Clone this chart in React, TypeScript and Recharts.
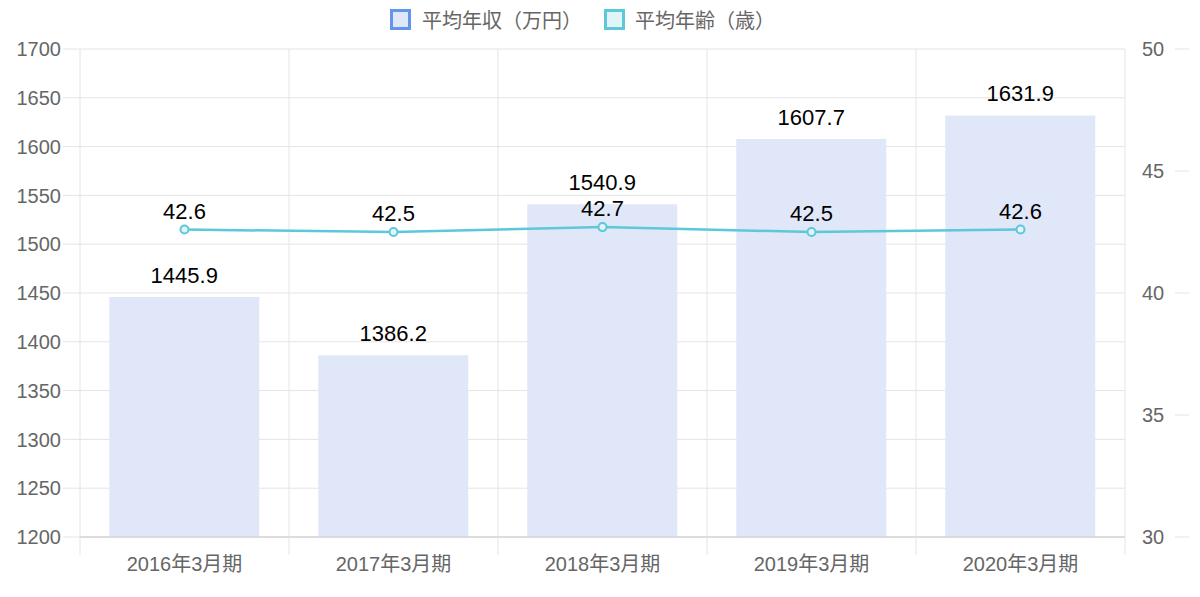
import React from 'react';
import {
  ComposedChart,
  Bar,
  Line,
  XAxis,
  YAxis,
  CartesianGrid,
  Legend,
  LabelList,
} from 'recharts';

const categories = ['2016年3月期', '2017年3月期', '2018年3月期', '2019年3月期', '2020年3月期'];
const incomeValues = [1445.9, 1386.2, 1540.9, 1607.7, 1631.9];
const ageValues = [42.6, 42.5, 42.7, 42.5, 42.6];
const incomeTicks = [1200, 1250, 1300, 1350, 1400, 1450, 1500, 1550, 1600, 1650, 1700];
const ageTicks = [30, 35, 40, 45, 50];

const data = categories.map((name, i) => ({
  name,
  income: incomeValues[i],
  age: ageValues[i],
}));

const FONT = '"Helvetica Neue", Helvetica, "Liberation Sans", Arial, "Noto Sans CJK JP", sans-serif';
const GRID = '#e4e4e4';
const BAR_FILL = '#dfe7f9';
const BAR_BORDER = '#6495ed';
const LINE_COLOR = '#5cc8da';

// category ticks: label in the band centre, tick marks on the band edges
const XTick = (props: any) => {
  const { x, y, payload, index } = props;
  const half = payload.offset || 0;
  return (
    <g>
      <line x1={x - half} x2={x - half} y1={y} y2={y + 18} stroke={GRID} />
      {index === categories.length - 1 && (
        <line x1={x + half} x2={x + half} y1={y} y2={y + 18} stroke={GRID} />
      )}
      <text x={x} y={y + 34} textAnchor="middle" fill="#666" fontSize={20} fontFamily={FONT}>
        {payload.value}
      </text>
    </g>
  );
};

// right axis: label first, then a short dash
const RightTick = (props: any) => {
  const { x, y, payload } = props;
  return (
    <g>
      <text x={x + 17} y={y + 7} textAnchor="start" fill="#666" fontSize={20} fontFamily={FONT}>
        {payload.value}
      </text>
      <line x1={x + 50} x2={x + 64} y1={y} y2={y} stroke={GRID} />
    </g>
  );
};

const LegendContent = () => (
  <div
    style={{
      height: 38,
      display: 'flex',
      justifyContent: 'flex-start',
      alignItems: 'center',
      paddingLeft: 390,
      fontFamily: FONT,
      fontSize: 20,
      color: '#666',
    }}
  >
    <span style={{ display: 'flex', alignItems: 'center', marginRight: 22 }}>
      <span
        style={{
          width: 15,
          height: 15,
          border: `3px solid ${BAR_BORDER}`,
          background: BAR_FILL,
          marginRight: 11,
          boxSizing: 'content-box',
        }}
      />
      平均年収（万円）
    </span>
    <span style={{ display: 'flex', alignItems: 'center' }}>
      <span
        style={{
          width: 15,
          height: 15,
          border: `3px solid ${LINE_COLOR}`,
          background: '#e1f5f8',
          marginRight: 10,
          boxSizing: 'content-box',
        }}
      />
      平均年齢（歳）
    </span>
  </div>
);

export default function App() {
  return (
    <div style={{ position: 'absolute', left: 0, top: 0, width: 1200, height: 597, background: '#fff' }}>
      <ComposedChart
        width={1200}
        height={597}
        data={data}
        margin={{ top: 11, right: 0, bottom: 0, left: 0 }}
        barCategoryGap="14%"
      >
        <CartesianGrid
          yAxisId="left"
          stroke={GRID}
          verticalCoordinatesGenerator={({ offset }: any) =>
            Array.from({ length: categories.length + 1 }, (_, i) => offset.left + (i * offset.width) / categories.length)
          }
        />
        <XAxis
          dataKey="name"
          height={60}
          tickSize={0}
          tickMargin={0}
          tickLine={false}
          axisLine={{ stroke: '#c8c8c8' }}
          tick={<XTick />}
          interval={0}
        />
        <YAxis
          yAxisId="left"
          width={80}
          domain={[1200, 1700]}
          ticks={incomeTicks}
          interval={0}
          axisLine={false}
          tickLine={{ stroke: GRID }}
          tickSize={17}
          tickMargin={2}
          tick={{ fill: '#666', fontSize: 20, fontFamily: FONT }}
        />
        <YAxis
          yAxisId="right"
          orientation="right"
          width={75}
          domain={[30, 50]}
          ticks={ageTicks}
          interval={0}
          axisLine={false}
          tickLine={false}
          tickSize={0}
          tickMargin={0}
          tick={<RightTick />}
        />
        <Legend verticalAlign="top" wrapperStyle={{ top: 0, left: 0, width: 1200 }} content={<LegendContent />} />
        <Bar yAxisId="left" dataKey="income" fill={BAR_FILL} isAnimationActive={false}>
          <LabelList dataKey="income" position="top" offset={14} fill="#000" fontSize={22} fontFamily={FONT} />
        </Bar>
        <Line
          yAxisId="right"
          type="linear"
          dataKey="age"
          stroke={LINE_COLOR}
          strokeWidth={2.5}
          dot={{ r: 4, stroke: LINE_COLOR, strokeWidth: 2, fill: '#e1f5f8' }}
          isAnimationActive={false}
        >
          <LabelList dataKey="age" position="top" offset={11} fill="#000" fontSize={22} fontFamily={FONT} />
        </Line>
      </ComposedChart>
    </div>
  );
}
